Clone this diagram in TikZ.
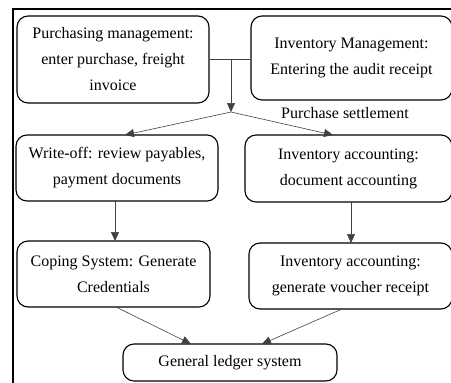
\documentclass[tikz,border=0pt]{standalone}
\usepackage{fontspec}
\setmainfont{Liberation Serif}
\usetikzlibrary{arrows.meta}
\begin{document}
\begin{tikzpicture}[x=1pt,y=-1pt,
  box/.style={draw, line width=1.1pt, rounded corners=11pt, align=center, inner sep=0pt,
    font=\fontsize{16}{26}\selectfont},
  conn/.style={draw=black!75, line width=0.6pt},
  arr/.style={conn, -{Triangle[width=8pt,length=9pt]}}]
\useasboundingbox (0,0) rectangle (451,383);
\clip (0,0) rectangle (451,383);
\draw[line width=1.1pt] (13,390) -- (13,9) -- (460,9);
\node[box, minimum width=192pt, minimum height=87pt] (b1) at (113,59.5)
  {Purchasing management:\\enter purchase, freight\\invoice};
\node[box, minimum width=201pt, minimum height=84pt] (b2) at (351.5,58)
  {Inventory Management:\\Entering the audit receipt};
\node[box, minimum width=202pt, minimum height=66pt] (b3) at (117,168)
  {Write-off: review payables,\\payment documents};
\node[box, minimum width=207pt, minimum height=67pt] (b4) at (348.5,168.5)
  {Inventory accounting:\\document accounting};
\node[box, minimum width=193pt, minimum height=66pt] (b5) at (113.5,274)
  {Coping System: Generate\\Credentials};
\node[box, minimum width=203pt, minimum height=66pt] (b6) at (350.5,276)
  {Inventory accounting:\\generate voucher receipt};
\node[box, minimum width=214pt, minimum height=37pt] (b7) at (230,362.5)
  {General ledger system};
\node[font=\fontsize{16}{19}\selectfont] (ps) at (345,113) {Purchase settlement};
\coordinate (j) at (231,59);
\coordinate (m) at (231,112);
\draw[conn] (b1.east |- j) -- (b2.west |- j);
\draw[arr] (j) -- (m);
\draw[arr] (m) -- (125,135);
\draw[arr] (m) -- (333,135);
\draw[arr] (115,201) -- (115,241);
\draw[arr] (351,202) -- (351,243);
\draw[arr] (116,307) -- (191,344);
\draw[arr] (342,309) -- (262,344);
\end{tikzpicture}
\end{document}
